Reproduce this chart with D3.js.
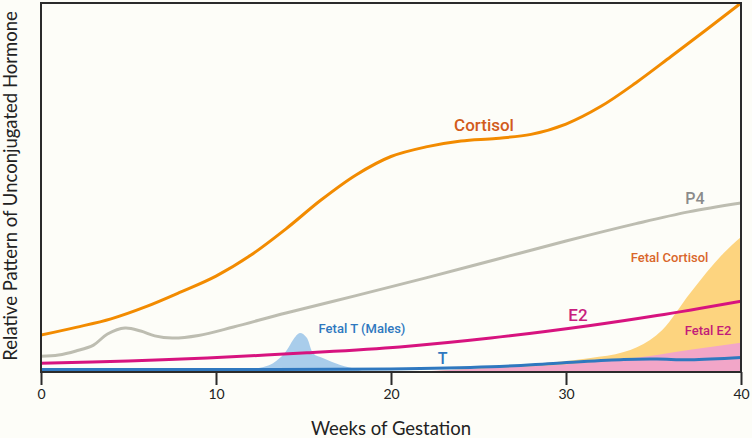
<!DOCTYPE html>
<html>
<head>
<meta charset="utf-8">
<script src="https://cdn.jsdelivr.net/npm/d3@7"></script>
<style>
  html, body { margin: 0; padding: 0; background: #fdfdf8; }
  svg { display: block; }
</style>
</head>
<body>
<svg id="chart" width="752" height="438"></svg>
<script>
// ---- data (relative units, 0..100) ----
const xTicks = [0, 10, 20, 30, 40];

const cortisolWeeks  = [0, 2, 4, 6, 8, 10, 12, 14, 16, 18, 20, 22, 24, 26, 28, 30, 32, 34, 36, 38, 40];
const cortisolValues = [10.0, 12.1, 14.4, 17.7, 21.7, 26.0, 31.7, 38.8, 46.6, 53.4, 58.4, 61.0, 62.6, 63.3, 64.4, 67.2, 72.0, 78.4, 85.5, 92.7, 100];

const p4Weeks  = [0, 1, 2, 3, 3.8, 4.8, 5.7, 6.5, 7.5, 9, 11, 14, 18, 22, 26, 30, 34, 37, 40];
const p4Values = [4.3, 4.6, 5.7, 7.3, 10.3, 11.9, 11.1, 9.8, 9.2, 9.9, 12.2, 16.0, 20.7, 25.5, 30.5, 35.5, 40.2, 43.4, 45.8];

const e2Weeks  = [0, 5, 9.5, 15.2, 20.5, 25.7, 31.4, 35.2, 40];
const e2Values = [2.4, 3.0, 3.8, 5.2, 6.8, 9.2, 12.6, 15.3, 19.2];

const tWeeks  = [0, 10, 20, 25.7, 29.5, 33.3, 35.2, 37.1, 40];
const tValues = [0.7, 0.7, 0.8, 1.4, 2.4, 3.4, 3.5, 3.3, 3.9];

const fetalTWeeks  = [11.7, 12.1, 13.26, 14.06, 14.4, 14.8, 15.2, 15.54, 16.1, 17.1, 18.06, 18.5];
const fetalTValues = [0, 0.7, 2.4, 6.0, 8.7, 10.6, 9.2, 5.1, 3.8, 1.9, 0.7, 0];

const fetalCortisolWeeks  = [22, 27.5, 31.4, 33.3, 34.8, 35.5, 37.1, 39, 40];
const fetalCortisolValues = [0.1, 1.9, 3.8, 5.4, 8.7, 11.4, 21.4, 32.2, 36.6];

const fetalE2Weeks  = [21.5, 25.7, 29.5, 33.3, 35.2, 37.1, 40];
const fetalE2Values = [0.1, 1.1, 1.9, 3.5, 4.6, 6.0, 7.9];

// ---- layout ----
const svg = d3.select("#chart");
const x = d3.scaleLinear().domain([0, 40]).range([41, 741]);
const y = d3.scaleLinear().domain([0, 100]).range([372, 3]);

const zip = (w, v) => w.map((d, i) => ({ w: d, v: v[i] }));

svg.append("defs").append("clipPath").attr("id", "clip")
  .append("rect").attr("x", 41).attr("y", 3).attr("width", 700).attr("height", 369);

const plot = svg.append("g").attr("clip-path", "url(#clip)");

const area = d3.area().x(d => x(d.w)).y0(y(0)).y1(d => y(d.v)).curve(d3.curveMonotoneX);
const line = d3.line().x(d => x(d.w)).y(d => y(d.v)).curve(d3.curveCatmullRom.alpha(0.5));

plot.append("path").datum(zip(fetalCortisolWeeks, fetalCortisolValues))
  .attr("d", area).attr("fill", "#fdd47f");
plot.append("path").datum(zip(fetalE2Weeks, fetalE2Values))
  .attr("d", area).attr("fill", "#f2a6c8");
plot.append("path").datum(zip(fetalTWeeks, fetalTValues))
  .attr("d", area).attr("fill", "#a9cdeb");

const series = [
  { w: p4Weeks, v: p4Values, c: "#bdbdb1" },
  { w: cortisolWeeks, v: cortisolValues, c: "#f28b00" },
  { w: e2Weeks, v: e2Values, c: "#d7137f" },
  { w: tWeeks, v: tValues, c: "#2f78bf" }
];
series.forEach(s => {
  plot.append("path").datum(zip(s.w, s.v))
    .attr("d", line).attr("fill", "none")
    .attr("stroke", s.c).attr("stroke-width", 3);
});

// frame
svg.append("rect").attr("x", 41).attr("y", 3).attr("width", 700).attr("height", 369)
  .attr("fill", "none").attr("stroke", "#2b2b2b").attr("stroke-width", 2);

// x axis
const xAxis = d3.axisBottom(x).tickValues(xTicks).tickSize(13).tickPadding(4).tickSizeOuter(0);
const gx = svg.append("g").attr("transform", "translate(0,372)").call(xAxis);
gx.select(".domain").remove();
gx.selectAll(".tick line").attr("stroke", "#2b2b2b").attr("stroke-width", 2);
gx.selectAll(".tick text").attr("fill", "#222")
  .style("font-family", "Lato, 'Open Sans', sans-serif").style("font-size", "14px");

// axis titles
svg.append("text").attr("x", 391).attr("y", 435).attr("text-anchor", "middle")
  .style("font-family", "Lato, 'Open Sans', sans-serif").style("font-size", "18.5px").attr("fill", "#222")
  .text("Weeks of Gestation");
svg.append("text").attr("transform", "translate(17,186) rotate(-90)").attr("text-anchor", "middle")
  .style("font-family", "Lato, 'Open Sans', sans-serif").style("font-size", "18.5px").attr("fill", "#222")
  .text("Relative Pattern of Unconjugated Hormone");

// series labels
const labels = [
  { t: "Cortisol", x: 484, y: 131, s: 17, c: "#d25b1b" },
  { t: "P4", x: 695, y: 204, s: 16, c: "#8b8b8b" },
  { t: "Fetal Cortisol", x: 669.5, y: 262, s: 13, c: "#d9662a" },
  { t: "E2", x: 578, y: 321, s: 17, c: "#c81e7e" },
  { t: "Fetal E2", x: 708, y: 335, s: 13, c: "#c21c79" },
  { t: "Fetal T (Males)", x: 362, y: 333, s: 13, c: "#2f78bf" },
  { t: "T", x: 442.5, y: 364, s: 16, c: "#2f78bf" }
];
svg.selectAll("text.lbl").data(labels).join("text").attr("class", "lbl")
  .attr("x", d => d.x).attr("y", d => d.y).attr("text-anchor", "middle")
  .style("font-family", "Roboto, 'Noto Sans', sans-serif").style("font-weight", 500)
  .style("font-size", d => d.s + "px").attr("fill", d => d.c).text(d => d.t);
</script>
</body>
</html>
